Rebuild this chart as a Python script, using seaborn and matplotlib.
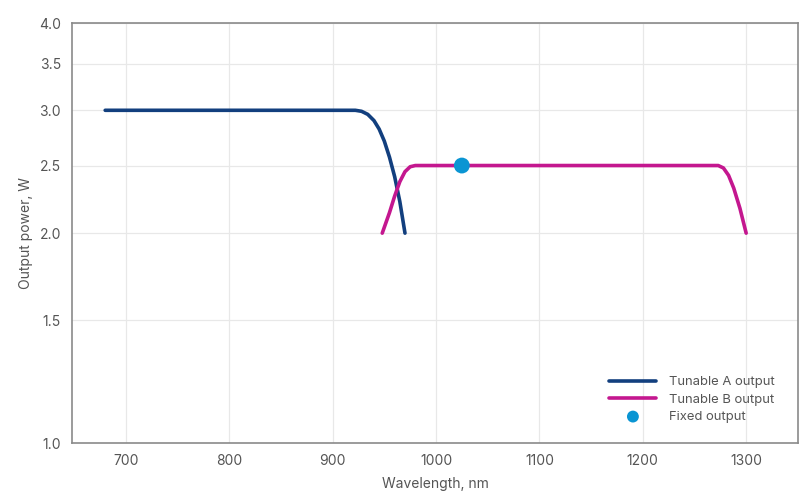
import numpy as np
import pandas as pd
import matplotlib as mpl
mpl.use('Agg')
import matplotlib.pyplot as plt
from matplotlib.ticker import FixedLocator, FormatStrFormatter, NullLocator
import seaborn as sns

# values
a_wl = [680, 922, 928, 934, 940, 945, 950, 955, 960, 965, 970]
a_pw = [3.0, 3.0, 2.99, 2.96, 2.90, 2.82, 2.71, 2.57, 2.41, 2.22, 2.0]
b_wl = [948, 955, 960, 965, 970, 975, 980, 1273, 1278, 1283, 1288, 1294, 1300]
b_pw = [2.0, 2.14, 2.26, 2.37, 2.45, 2.49, 2.5, 2.5, 2.48, 2.42, 2.32, 2.17, 2.0]
fixed_wl = [1025]
fixed_pw = [2.5]
x_ticks = [700, 800, 900, 1000, 1100, 1200, 1300]
y_ticks = [1.0, 1.5, 2.0, 2.5, 3.0, 3.5, 4.0]

df_a = pd.DataFrame({'wl': a_wl, 'pw': a_pw})
df_b = pd.DataFrame({'wl': b_wl, 'pw': b_pw})
df_f = pd.DataFrame({'wl': fixed_wl, 'pw': fixed_pw})

sns.set_style('whitegrid')
plt.rcParams['font.family'] = ['Inter', 'DejaVu Sans']

fig = plt.figure(figsize=(8.1, 5.03), dpi=100)
ax = fig.add_axes([0.089, 0.119, 0.896, 0.835])

sns.lineplot(data=df_a, x='wl', y='pw', ax=ax, color='#123f7e', linewidth=2.6,
             label='Tunable A output', sort=False)
sns.lineplot(data=df_b, x='wl', y='pw', ax=ax, color='#c4178f', linewidth=2.6,
             label='Tunable B output', sort=False)
sns.scatterplot(data=df_f, x='wl', y='pw', ax=ax, color='#0a95d3', s=130,
                edgecolor='none', label='Fixed output', zorder=5)

ax.set_yscale('log')
ax.set_ylim(1.0, 4.0)
ax.set_xlim(648, 1350)
ax.yaxis.set_major_locator(FixedLocator(y_ticks))
ax.yaxis.set_major_formatter(FormatStrFormatter('%.1f'))
ax.yaxis.set_minor_locator(NullLocator())
ax.set_xticks(x_ticks)

ax.grid(True, color='#e8e8e8', linewidth=0.9)
for s in ax.spines.values():
    s.set_color('#8a8a8a')
    s.set_linewidth(1.2)
ax.tick_params(length=0, labelsize=10, colors='#555555', pad=8)

ax.set_xlabel('Wavelength, nm', fontsize=10, color='#555555', labelpad=6)
ax.set_ylabel('Output power, W', fontsize=10, color='#555555', labelpad=4)

leg = ax.legend(loc='lower right', frameon=False, fontsize=9.4, handlelength=3.6,
                handletextpad=1.0, labelspacing=0.4, markerscale=0.75,
                bbox_to_anchor=(0.985, 0.02))
for t in leg.get_texts():
    t.set_color('#555555')

fig.savefig('out.png', dpi=100)
